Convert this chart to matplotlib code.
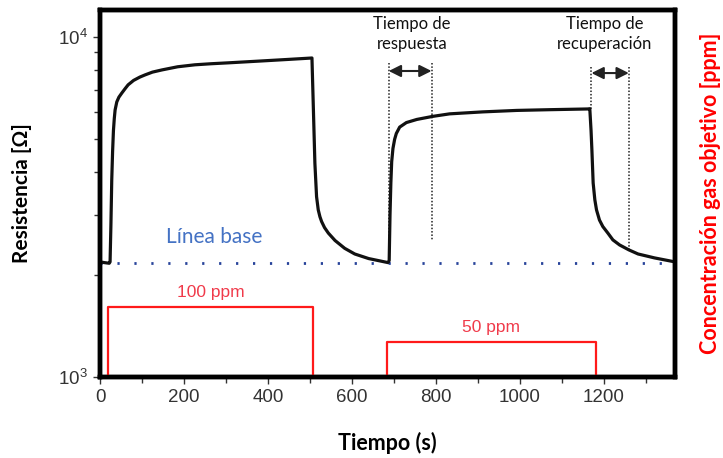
import numpy as np
import matplotlib
matplotlib.use("Agg")
import matplotlib.pyplot as plt

# sensor resistance trace (time in s, resistance in ohm)
time_s = [0, 10, 22, 24, 26, 28, 30, 32, 34, 36, 40, 45, 52, 60, 67, 80, 95,
          107, 125, 148, 185, 226, 265, 305, 386, 450, 505,
          508, 512, 516, 520, 524, 528, 535, 544, 560, 583, 607, 640, 686,
          689, 691, 693, 695, 698, 702, 706, 714, 730, 755, 793, 833, 912,
          993, 1071, 1162, 1167,
          1170, 1172, 1175, 1179, 1183, 1190, 1198, 1210, 1222, 1238, 1260,
          1282, 1321, 1370]
resist = [2180, 2170, 2160, 2180, 2800, 3800, 4600, 5300, 5750, 6100, 6440,
          6650, 6840, 7050, 7230, 7450, 7620, 7730, 7880, 8000, 8170, 8280,
          8340, 8390, 8500, 8590, 8670,
          6400, 4250, 3390, 3100, 2960, 2865, 2750, 2650, 2520, 2390, 2300,
          2230, 2170,
          2200, 3000, 3720, 4300, 4700, 5000, 5200, 5430, 5600, 5720, 5840,
          5940, 6020, 6080, 6110, 6140, 6150,
          5300, 4650, 3720, 3320, 3100, 2895, 2770, 2650, 2530, 2445, 2365,
          2300, 2240, 2180]
baseline = 2160

# target gas pulses
gas_on = [19, 683]
gas_off = [507, 1181]
gas_ppm = [100, 50]
gas_labels = ["100 ppm", "50 ppm"]

# response / recovery markers
resp_t = [688, 790]
resp_bottom = [2170, 2530]
rec_t = [1171, 1260]
rec_bottom = [6150, 2365]

fig = plt.figure(figsize=(7.23, 4.58), dpi=100)
ax = fig.add_axes([100 / 723, 81 / 458, 575 / 723, 367 / 458])
ax2 = ax.twinx()

ax.set_yscale("log")
ax.set_xlim(0, 1370)
ax.set_ylim(1000, 12000)
ax2.set_ylim(0, 524)

ax.plot(time_s, resist, color="#111111", lw=2.3, zorder=5,
        solid_joinstyle="round")
ax.axhline(baseline, color="#27439A", lw=2.0, ls=(0, (0.8, 5.3)), zorder=3)
ax.text(271, 2585, "Línea base", color="#4472C4", fontsize=15,
        family="Lato", ha="center", va="center")

for t0, t1, c, lab in zip(gas_on, gas_off, gas_ppm, gas_labels):
    ax2.plot([t0, t0, t1, t1], [0, c, c, 0], color="#FF1A1A", lw=1.6,
             zorder=2)
    ax2.text((t0 + t1) / 2, c + 21, lab, color="#F03A4A", fontsize=12.5,
             family="Liberation Sans", ha="center", va="center")

# dotted guide lines and double arrows
for x, b in zip(resp_t, resp_bottom):
    ax.plot([x, x], [8390, b], color="#222222", lw=1.1, ls=(0, (1, 1.2)),
            zorder=4)
for x, b in zip(rec_t, rec_bottom):
    ax.plot([x, x], [8170, b], color="#222222", lw=1.1, ls=(0, (1, 1.2)),
            zorder=4)
ax.annotate("", xy=(resp_t[1], 7940), xytext=(resp_t[0], 7940),
            arrowprops=dict(arrowstyle="<|-|>", color="#222222", lw=1.5,
                            mutation_scale=18, shrinkA=0, shrinkB=0))
ax.annotate("", xy=(rec_t[1], 7830), xytext=(rec_t[0], 7830),
            arrowprops=dict(arrowstyle="<|-|>", color="#222222", lw=1.5,
                            mutation_scale=18, shrinkA=0, shrinkB=0))
ax.text(743, 10200, "Tiempo de\nrespuesta", fontsize=12, family="Lato",
        ha="center", va="center", linespacing=1.3, color="#111111")
ax.text(1202, 10200, "Tiempo de\nrecuperación", fontsize=12, family="Lato",
        ha="center", va="center", linespacing=1.3, color="#111111")

# axes styling
for a in (ax, ax2):
    for s in a.spines.values():
        s.set_linewidth(3.2)
        s.set_color("black")
ax.set_xticks(np.arange(0, 1300, 200))
ax.set_xticks(np.arange(100, 1400, 200), minor=True)
ax.tick_params(which="both", direction="out", color="#333333", width=1.0,
               labelsize=13.5, labelcolor="#333333", pad=4)
ax.tick_params(which="major", length=5)
ax.tick_params(which="minor", length=4)
for lab in ax.get_xticklabels() + ax.get_yticklabels():
    lab.set_family("Liberation Sans")
ax2.set_yticks([])

ax.set_xlabel("Tiempo (s)", fontsize=15.5, fontweight="bold", family="Lato")
ax.xaxis.set_label_coords(0.5, -0.18)
ax.xaxis.label.set_va("center")
ax.set_ylabel("Resistencia [Ω]", fontsize=15, fontweight="bold",
              family="Lato")
ax.yaxis.set_label_coords(-0.136, 0.5)
ax.yaxis.label.set_va("center")
ax2.set_ylabel("Concentración gas objetivo [ppm]", fontsize=15.5,
               fontweight="bold", family="Lato", color="#FF0000")
ax2.yaxis.set_label_coords(1.062, 0.5)
ax2.yaxis.label.set_va("center")

fig.savefig("out.png", dpi=100)
